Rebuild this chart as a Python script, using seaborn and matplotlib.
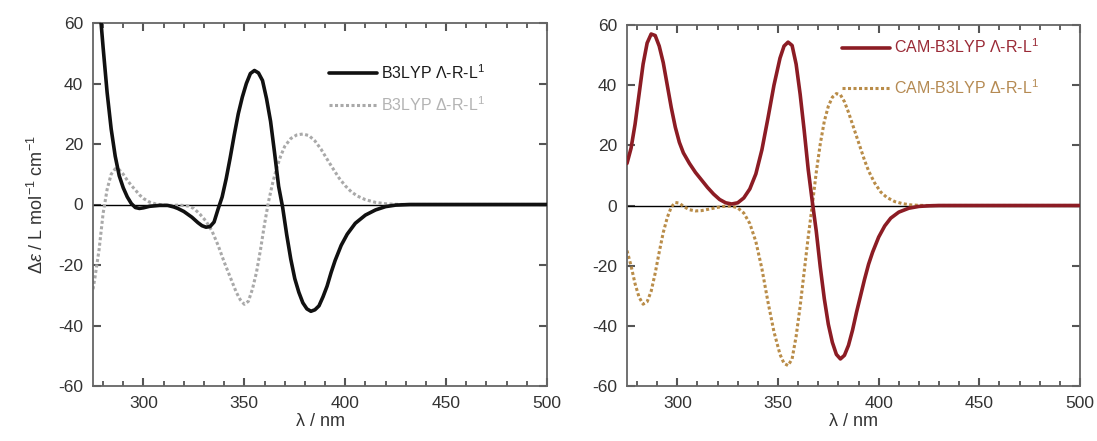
import numpy as np
import pandas as pd
import matplotlib
matplotlib.use("Agg")
import matplotlib.pyplot as plt
from matplotlib.ticker import MultipleLocator
import seaborn as sns

# ---------------- data ----------------
b3_lam_x = [276, 278, 279, 280, 282, 284, 286, 288, 290, 292, 294, 296, 298, 300, 303, 308, 312, 315,
            317, 320, 324, 327, 329, 331, 333, 335, 337, 339, 341, 343, 345, 347, 349, 351, 353, 355,
            357, 359, 361, 363, 365, 367, 369, 371, 373, 375, 377, 379, 381, 383, 385, 387, 389, 391,
            393, 395, 398, 401, 405, 410, 415, 420, 425, 432, 450, 475, 500]
b3_lam_y = [75, 66, 60, 52, 37, 25, 16, 9.5, 5.5, 2.5, 0.3, -1.0, -1.3, -1.1, -0.6, -0.3, -0.3, -0.8,
            -1.3, -2.3, -4.2, -6.0, -7.0, -7.5, -7.3, -5.8, -1.5, 2.5, 8.5, 15.5, 23, 30, 35.5, 40, 43.3, 44.3,
            43.5, 41, 35, 27.5, 17, 6, -1, -10, -18, -24.5, -29, -32.5, -34.5, -35.3, -34.8, -33.5, -30.5, -27,
            -22.5, -18.5, -13.5, -9.8, -6.2, -3.5, -1.8, -0.7, -0.2, 0, 0, 0, 0]

b3_del_x = [275, 276, 278, 280, 282, 284, 286, 288, 290, 292, 294, 296, 298, 300, 303, 306, 310, 314,
            318, 322, 325, 328, 331, 334, 337, 340, 343, 346, 348, 350, 352, 354, 356, 358, 360, 362,
            364, 366, 368, 370, 373, 376, 379, 382, 385, 388, 391, 394, 397, 400, 403, 406, 410, 415,
            420, 425, 430, 450, 475, 500]
b3_del_y = [-28, -24, -15, -3, 5, 10, 11.8, 11.5, 10, 8, 6.3, 4.8, 3.2, 2, 0.8, 0.2, -0.2, -0.3,
            -0.2, -0.5, -1.3, -3.2, -5.5, -8.8, -13.5, -19, -24, -29, -31.5, -33, -32, -28, -22.5, -15, -6.5, 1,
            7, 12, 16, 19.2, 21.8, 23, 23.3, 22.8, 21, 18.3, 15, 11.8, 8.7, 6.2, 4.2, 2.8, 1.6, 0.7,
            0.25, 0.05, 0, 0, 0, 0]

cam_lam_x = [275, 277, 279, 281, 283, 285, 287, 289, 291, 293, 295, 297, 299, 301, 303, 306, 309, 312,
             315, 318, 321, 324, 327, 330, 333, 336, 339, 342, 345, 348, 351, 353, 355, 357, 359, 361,
             363, 365, 367, 369, 371, 373, 375, 377, 379, 381, 383, 385, 387, 389, 391, 393, 395, 397,
             400, 403, 406, 410, 415, 420, 425, 430, 450, 475, 500]
cam_lam_y = [14, 19, 27, 37, 47, 54, 57, 56.5, 53, 47.5, 40, 32.5, 26, 21, 17.5, 14, 11, 8.5,
             6, 3.8, 2, 0.9, 0.5, 0.9, 2.5, 5.5, 10.5, 18.5, 29, 40, 49, 53, 54.3, 53.2, 47, 37,
             25, 12, 1.5, -8.5, -20.5, -31, -39.5, -45.5, -49.5, -51, -49.8, -46.5, -41.5, -35.5, -30, -24.5, -19.5, -15.5,
             -10.5, -6.8, -4.2, -2.2, -0.9, -0.3, -0.1, 0, 0, 0, 0]

cam_del_x = [275, 277, 279, 281, 283, 285, 287, 289, 291, 293, 295, 297, 299, 301, 303, 306, 309, 312,
             315, 318, 321, 324, 327, 330, 333, 336, 339, 342, 345, 348, 351, 353, 355, 357, 359, 361,
             363, 365, 367, 369, 371, 373, 375, 377, 379, 381, 383, 385, 387, 389, 391, 393, 395, 398,
             401, 404, 408, 412, 416, 420, 425, 450, 475, 500]
cam_del_y = [-15, -20, -26, -30.5, -32.8, -32, -28.5, -22.5, -15.5, -9, -4, -0.5, 1, 0.8, -0.3, -1.4, -1.8, -1.7,
             -1.3, -0.9, -0.5, -0.2, -0.2, -0.8, -2.5, -6, -12, -21, -32, -42, -49.5, -52.5, -53.2, -51, -43.5, -33.5,
             -22, -10.5, 0, 11, 20.5, 28, 33, 36, 37.2, 36.8, 34.5, 31, 27, 23, 19, 15, 11.5, 7.5,
             4.5, 2.7, 1.3, 0.6, 0.2, 0.05, 0, 0, 0, 0]

labels_left = ["B3LYP Λ-R-L$^{1}$", "B3LYP Δ-R-L$^{1}$"]
labels_right = ["CAM-B3LYP Λ-R-L$^{1}$", "CAM-B3LYP Δ-R-L$^{1}$"]
x_ticks = [300, 350, 400, 450, 500]
y_ticks = [-60, -40, -20, 0, 20, 40, 60]

# ---------------- style ----------------
sns.set_style("ticks")
tick_col = "#555555"
spine_col = "#666666"
text_col = "#333333"
plt.rcParams.update({
    "font.family": ["Liberation Sans", "DejaVu Sans"],
    "mathtext.fontset": "custom",
    "mathtext.rm": "Liberation Sans",
    "mathtext.it": "Liberation Sans:italic",
    "mathtext.sf": "Liberation Sans",
    "axes.unicode_minus": False,
    "xtick.labelcolor": text_col, "ytick.labelcolor": text_col,
    "xtick.labelsize": 12.5, "ytick.labelsize": 12.5,
    "axes.edgecolor": spine_col, "axes.linewidth": 1.3,
})

fig = plt.figure(figsize=(10.97, 4.41), dpi=100)
ax1 = fig.add_axes([93 / 1097, 55 / 441, 454 / 1097, 363 / 441])
ax2 = fig.add_axes([627 / 1097, 55 / 441, 453 / 1097, 361 / 441])


def draw(ax, xs1, ys1, xs2, ys2, c1, c2, lab, lw1, lw2, ls2):
    d1 = pd.DataFrame({"x": xs1, "y": ys1})
    d2 = pd.DataFrame({"x": xs2, "y": ys2})
    ax.axhline(0, color="black", lw=1.0, zorder=1)
    sns.lineplot(data=d1, x="x", y="y", ax=ax, color=c1, lw=lw1, label=lab[0],
                 sort=False, estimator=None, zorder=3)
    sns.lineplot(data=d2, x="x", y="y", ax=ax, color=c2, lw=lw2, label=lab[1],
                 sort=False, estimator=None, zorder=2, linestyle=ls2)
    ax.set_xlim(275, 500)
    ax.set_ylim(-60, 60)
    ax.set_xticks(x_ticks)
    ax.set_yticks(y_ticks)
    ax.xaxis.set_minor_locator(MultipleLocator(10))
    ax.xaxis.set_ticks_position("both")
    ax.yaxis.set_ticks_position("both")
    ax.tick_params(axis="both", which="both", direction="in", color=tick_col,
                   bottom=True, top=True, left=True, right=True)
    ax.tick_params(axis="both", which="major", length=6, width=1.5, pad=7)
    ax.tick_params(axis="both", which="minor", length=3.5, width=1.3)
    ax.set_xlabel("λ / nm", fontsize=13, color=text_col, labelpad=2)
    ax.set_ylabel("")


c_black = "#111111"
c_gray = "#a9a9a9"
c_red = "#8c1c24"
c_orange = "#b98c48"

draw(ax1, b3_lam_x, b3_lam_y, b3_del_x, b3_del_y, c_black, c_gray, labels_left, 2.6, 2.2, (0, (1, 0.8)))
draw(ax2, cam_lam_x, cam_lam_y, cam_del_x, cam_del_y, c_red, c_orange, labels_right, 2.6, 2.2, (0, (1, 0.8)))

ax1.set_ylabel("Δ$\\it{ε}$ / L mol$^{-1}$ cm$^{-1}$", fontsize=13, color=text_col, labelpad=8)

leg1 = ax1.legend(loc="upper left", bbox_to_anchor=(0.52, 0.89), frameon=False, fontsize=11.5,
                  handlelength=3.0, handletextpad=0.25, labelspacing=0.85, borderpad=0, borderaxespad=0)
for t, c in zip(leg1.get_texts(), ["#1a1a1a", "#b3b3b3"]):
    t.set_color(c)

leg2 = ax2.legend(loc="upper left", bbox_to_anchor=(0.475, 0.965), frameon=False, fontsize=11.5,
                  handlelength=3.0, handletextpad=0.25, labelspacing=1.35, borderpad=0, borderaxespad=0)
for t, c in zip(leg2.get_texts(), ["#9a2a36", "#b58a52"]):
    t.set_color(c)

fig.savefig("out.png", dpi=100)
